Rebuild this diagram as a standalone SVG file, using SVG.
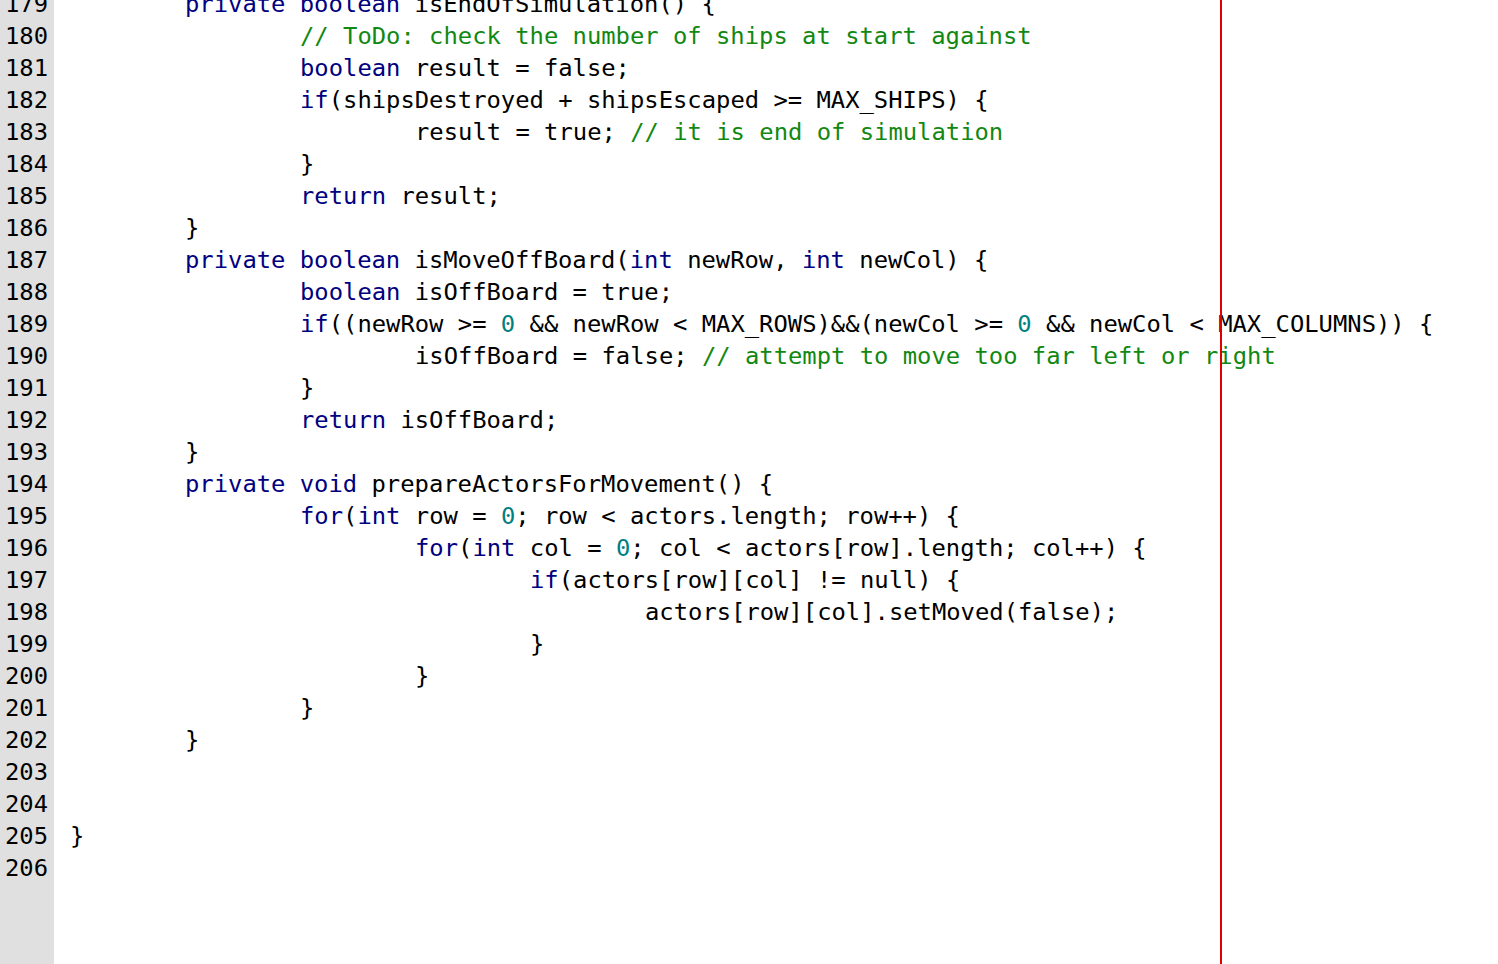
<svg xmlns="http://www.w3.org/2000/svg" width="1498" height="964" viewBox="0 0 1498 964">
<style>
text{font-family:"DejaVu Sans Mono","Liberation Mono",monospace;font-size:23.84px;fill:#000;white-space:pre}
.k{fill:#000080}.c{fill:#118811}.n{fill:#008080}
</style>
<rect width="1498" height="964" fill="#fff"/>
<rect width="54" height="964" fill="#e0e0e0"/>
<g id="gutter">
<text x="5" y="12">179</text><text x="5" y="44">180</text><text x="5" y="76">181</text><text x="5" y="108">182</text><text x="5" y="140">183</text><text x="5" y="172">184</text><text x="5" y="204">185</text><text x="5" y="236">186</text><text x="5" y="268">187</text><text x="5" y="300">188</text><text x="5" y="332">189</text><text x="5" y="364">190</text><text x="5" y="396">191</text><text x="5" y="428">192</text><text x="5" y="460">193</text><text x="5" y="492">194</text><text x="5" y="524">195</text><text x="5" y="556">196</text><text x="5" y="588">197</text><text x="5" y="620">198</text><text x="5" y="652">199</text><text x="5" y="684">200</text><text x="5" y="716">201</text><text x="5" y="748">202</text><text x="5" y="780">203</text><text x="5" y="812">204</text><text x="5" y="844">205</text><text x="5" y="876">206</text>
</g>
<g id="code">
<text x="185" y="12"><tspan class="k">private boolean</tspan> isEndOfSimulation() {</text>
<text x="300" y="44" class="c">// ToDo: check the number of ships at start against</text>
<text x="300" y="76"><tspan class="k">boolean</tspan> result = false;</text>
<text x="300" y="108"><tspan class="k">if</tspan>(shipsDestroyed + shipsEscaped &gt;= MAX_SHIPS) {</text>
<text x="415" y="140">result = true; <tspan class="c">// it is end of simulation</tspan></text>
<text x="300" y="172">}</text>
<text x="300" y="204"><tspan class="k">return</tspan> result;</text>
<text x="185" y="236">}</text>
<text x="185" y="268"><tspan class="k">private boolean</tspan> isMoveOffBoard(<tspan class="k">int</tspan> newRow, <tspan class="k">int</tspan> newCol) {</text>
<text x="300" y="300"><tspan class="k">boolean</tspan> isOffBoard = true;</text>
<text x="300" y="332"><tspan class="k">if</tspan>((newRow &gt;= <tspan class="n">0</tspan> &amp;&amp; newRow &lt; MAX_ROWS)&amp;&amp;(newCol &gt;= <tspan class="n">0</tspan> &amp;&amp; newCol &lt; MAX_COLUMNS)) {</text>
<text x="415" y="364">isOffBoard = false; <tspan class="c">// attempt to move too far left or right</tspan></text>
<text x="300" y="396">}</text>
<text x="300" y="428"><tspan class="k">return</tspan> isOffBoard;</text>
<text x="185" y="460">}</text>
<text x="185" y="492"><tspan class="k">private void</tspan> prepareActorsForMovement() {</text>
<text x="300" y="524"><tspan class="k">for</tspan>(<tspan class="k">int</tspan> row = <tspan class="n">0</tspan>; row &lt; actors.length; row++) {</text>
<text x="415" y="556"><tspan class="k">for</tspan>(<tspan class="k">int</tspan> col = <tspan class="n">0</tspan>; col &lt; actors[row].length; col++) {</text>
<text x="530" y="588"><tspan class="k">if</tspan>(actors[row][col] != null) {</text>
<text x="645" y="620">actors[row][col].setMoved(false);</text>
<text x="530" y="652">}</text>
<text x="415" y="684">}</text>
<text x="300" y="716">}</text>
<text x="185" y="748">}</text>
<text x="70" y="844">}</text>
</g>
<line x1="1221" y1="0" x2="1221" y2="964" stroke="#e00000" stroke-width="2"/>
</svg>
